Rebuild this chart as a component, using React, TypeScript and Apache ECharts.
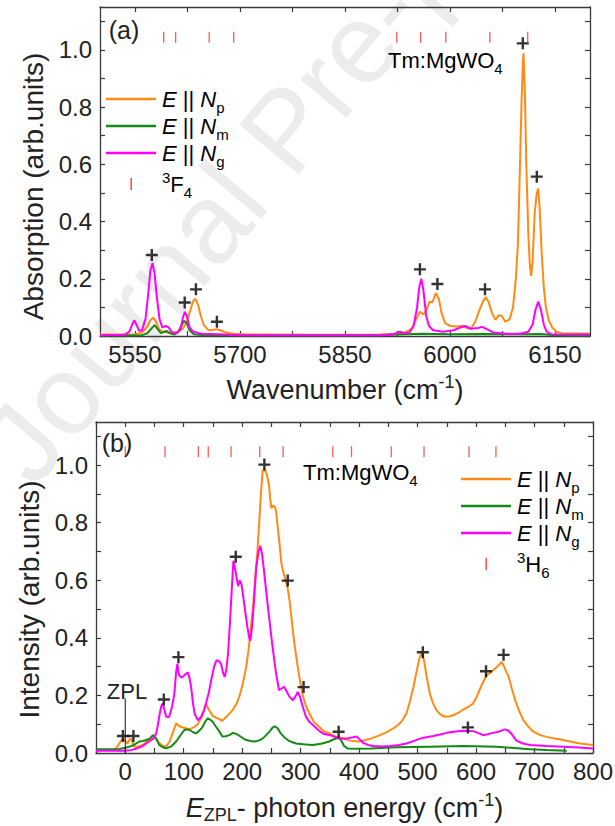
import React, { useEffect, useRef } from 'react';
import * as echarts from 'echarts';

// ---------- Panel (a): absorption ----------
const absNp: [number, number][] = [
  [5500, 0.005], [5530, 0.005], [5550, 0.006], [5558, 0.01], [5563, 0.02], [5568, 0.035], [5572, 0.055], [5576, 0.064],
  [5580, 0.05], [5584, 0.025], [5590, 0.015], [5597, 0.012], [5605, 0.012], [5612, 0.015], [5618, 0.025], [5624, 0.05],
  [5629, 0.09], [5633, 0.122], [5636, 0.13], [5640, 0.11], [5644, 0.07], [5648, 0.04], [5654, 0.022], [5660, 0.02],
  [5666, 0.024], [5672, 0.02], [5680, 0.012], [5690, 0.008], [5710, 0.005], [5800, 0.004], [5900, 0.005], [5920, 0.008],
  [5935, 0.012], [5945, 0.025], [5952, 0.06], [5957, 0.085], [5962, 0.075], [5966, 0.09], [5971, 0.12], [5975, 0.118],
  [5980, 0.15], [5984, 0.13], [5988, 0.08], [5993, 0.045], [6000, 0.035], [6010, 0.033], [6018, 0.036], [6025, 0.027],
  [6030, 0.025], [6036, 0.05], [6042, 0.09], [6047, 0.12], [6051, 0.135], [6055, 0.12], [6060, 0.08], [6065, 0.057],
  [6070, 0.073], [6074, 0.07], [6079, 0.05], [6085, 0.058], [6090, 0.1], [6094, 0.2], [6097, 0.32], [6100, 0.6],
  [6102, 0.8], [6104, 0.95], [6105, 0.988], [6107, 0.85], [6109, 0.6], [6112, 0.35], [6114, 0.25], [6116, 0.21],
  [6118, 0.26], [6121, 0.43], [6124, 0.5], [6126, 0.515], [6128, 0.45], [6131, 0.29], [6134, 0.17], [6137, 0.1],
  [6141, 0.055], [6146, 0.03], [6152, 0.015], [6160, 0.01], [6200, 0.008],
];
const absNm: [number, number][] = [
  [5500, 0.002], [5560, 0.003], [5568, 0.01], [5573, 0.025], [5578, 0.038], [5582, 0.025], [5587, 0.01], [5592, 0.015],
  [5595, 0.018], [5599, 0.01], [5606, 0.005], [5612, 0.015], [5616, 0.035], [5620, 0.053], [5624, 0.045], [5628, 0.02],
  [5634, 0.006], [5650, 0.003], [5900, 0.003], [5925, 0.005], [5960, 0.008], [6000, 0.006], [6050, 0.007], [6100, 0.006],
  [6130, 0.007], [6150, 0.003], [6200, 0.002],
];
const absNg: [number, number][] = [
  [5500, 0.003], [5535, 0.004], [5542, 0.015], [5546, 0.04], [5549, 0.055], [5552, 0.04], [5556, 0.018], [5560, 0.02],
  [5565, 0.06], [5569, 0.15], [5572, 0.23], [5575, 0.255], [5578, 0.22], [5581, 0.14], [5585, 0.06], [5589, 0.03],
  [5594, 0.035], [5598, 0.03], [5603, 0.012], [5610, 0.01], [5615, 0.025], [5618, 0.06], [5621, 0.085], [5624, 0.07],
  [5628, 0.03], [5633, 0.015], [5645, 0.008], [5680, 0.005], [5700, 0.003], [5900, 0.003], [5920, 0.006], [5928, 0.015],
  [5935, 0.01], [5942, 0.012], [5948, 0.035], [5953, 0.1], [5956, 0.17], [5959, 0.2], [5962, 0.16], [5966, 0.07],
  [5970, 0.035], [5976, 0.02], [5990, 0.015], [6005, 0.02], [6015, 0.03], [6022, 0.035], [6030, 0.025], [6040, 0.028],
  [6046, 0.032], [6052, 0.025], [6062, 0.012], [6080, 0.008], [6100, 0.008], [6112, 0.015], [6118, 0.04], [6122, 0.09],
  [6126, 0.12], [6130, 0.09], [6134, 0.04], [6138, 0.015], [6145, 0.006], [6200, 0.005],
];
const absPeaks: [number, number][] = [
  [5574, 0.283], [5621, 0.117], [5637, 0.163], [5667, 0.05], [5957, 0.233], [5982, 0.182], [6050, 0.163],
  [6104, 1.023], [6124, 0.557],
];
const levels3F4: number[] = [5591, 5608, 5656, 5691, 5924, 5958, 5994, 6057, 6111];

// ---------- Panel (b): luminescence ----------
const lumNp: [number, number][] = [
  [-50, 0.01], [-20, 0.01], [-14, 0.02], [-8, 0.04], [-4, 0.05], [0, 0.042], [4, 0.033], [7, 0.045], [10, 0.05],
  [13, 0.035], [16, 0.022], [22, 0.022], [30, 0.028], [40, 0.045], [47, 0.062], [52, 0.05], [58, 0.035], [64, 0.025],
  [70, 0.022], [76, 0.04], [81, 0.068], [87, 0.103], [93, 0.092], [100, 0.088], [110, 0.083], [118, 0.09], [124, 0.1],
  [132, 0.13], [138, 0.172], [143, 0.15], [150, 0.128], [158, 0.12], [166, 0.112], [175, 0.13], [184, 0.15], [190, 0.17],
  [195, 0.195], [201, 0.24], [207, 0.3], [211, 0.36], [215, 0.437], [219, 0.52], [222, 0.6], [226, 0.7], [229, 0.795],
  [232, 0.9], [235, 0.98], [238, 0.985], [241, 0.975], [244, 0.95], [246, 0.93], [248, 0.88], [250, 0.85], [253, 0.86],
  [256, 0.855], [258, 0.84], [261, 0.78], [264, 0.725], [267, 0.66], [270, 0.63], [274, 0.605], [278, 0.57], [281, 0.53],
  [286, 0.437], [290, 0.37], [295, 0.3], [299, 0.25], [303, 0.206], [308, 0.17], [315, 0.137], [322, 0.11], [332, 0.09],
  [340, 0.075], [350, 0.068], [358, 0.058], [367, 0.054], [384, 0.043], [400, 0.04], [420, 0.05], [436, 0.062],
  [450, 0.075], [464, 0.093], [473, 0.11], [481, 0.137], [487, 0.18], [493, 0.23], [498, 0.28], [501, 0.31], [504, 0.335],
  [507, 0.345], [510, 0.33], [512, 0.31], [516, 0.26], [521, 0.206], [526, 0.175], [532, 0.149], [540, 0.132],
  [547, 0.126], [555, 0.128], [561, 0.131], [570, 0.14], [578, 0.151], [588, 0.162], [595, 0.172], [601, 0.195],
  [607, 0.224], [613, 0.25], [618, 0.27], [624, 0.278], [629, 0.287], [636, 0.3], [641, 0.31], [644, 0.316], [648, 0.3],
  [652, 0.28], [655, 0.27], [661, 0.225], [667, 0.183], [674, 0.145], [681, 0.114], [690, 0.09], [698, 0.074],
  [710, 0.062], [721, 0.056], [735, 0.05], [749, 0.045], [765, 0.038], [778, 0.033], [800, 0.028],
];
const lumNm: [number, number][] = [
  [-50, 0.013], [-10, 0.014], [0, 0.018], [7, 0.022], [15, 0.028], [24, 0.04], [30, 0.042], [36, 0.045], [42, 0.05],
  [48, 0.062], [53, 0.05], [58, 0.028], [64, 0.02], [70, 0.016], [78, 0.022], [87, 0.04], [94, 0.06], [101, 0.08],
  [106, 0.082], [110, 0.08], [116, 0.072], [121, 0.068], [127, 0.078], [132, 0.09], [137, 0.11], [141, 0.12],
  [146, 0.115], [150, 0.107], [155, 0.092], [160, 0.078], [166, 0.057], [172, 0.058], [178, 0.062], [184, 0.07],
  [190, 0.066], [195, 0.06], [201, 0.052], [207, 0.045], [214, 0.042], [221, 0.04], [228, 0.043], [235, 0.05],
  [241, 0.062], [247, 0.075], [252, 0.088], [256, 0.093], [261, 0.085], [266, 0.068], [272, 0.055], [278, 0.045],
  [285, 0.038], [292, 0.033], [305, 0.03], [320, 0.028], [335, 0.032], [349, 0.04], [357, 0.048], [364, 0.052],
  [369, 0.045], [374, 0.025], [380, 0.016], [395, 0.015], [420, 0.016], [464, 0.02], [521, 0.022], [578, 0.024],
  [635, 0.022], [692, 0.013], [720, 0.01], [755, 0.008],
];
const lumNg: [number, number][] = [
  [-50, 0.008], [0, 0.008], [10, 0.01], [18, 0.015], [28, 0.022], [36, 0.033], [44, 0.045], [48, 0.05], [53, 0.068],
  [56, 0.1], [59, 0.137], [62, 0.165], [64, 0.172], [67, 0.15], [70, 0.126], [75, 0.125], [80, 0.16], [84, 0.206],
  [87, 0.28], [89, 0.31], [92, 0.27], [96, 0.262], [100, 0.268], [104, 0.275], [107, 0.28], [110, 0.26], [113, 0.225],
  [116, 0.17], [119, 0.135], [124, 0.114], [130, 0.126], [135, 0.15], [138, 0.172], [143, 0.21], [147, 0.253],
  [152, 0.3], [156, 0.322], [160, 0.32], [164, 0.31], [167, 0.28], [170, 0.264], [173, 0.29], [176, 0.35], [179, 0.45],
  [182, 0.56], [185, 0.668], [187, 0.65], [190, 0.615], [193, 0.58], [196, 0.6], [199, 0.585], [202, 0.54], [206, 0.48],
  [209, 0.437], [212, 0.4], [214, 0.39], [217, 0.44], [220, 0.52], [224, 0.645], [228, 0.7], [231, 0.72], [234, 0.69],
  [237, 0.64], [241, 0.564], [246, 0.472], [252, 0.368], [258, 0.276], [263, 0.218], [268, 0.225], [272, 0.23],
  [277, 0.21], [281, 0.195], [287, 0.183], [292, 0.2], [295, 0.212], [299, 0.195], [303, 0.165], [309, 0.126],
  [315, 0.108], [321, 0.097], [330, 0.08], [338, 0.068], [350, 0.062], [360, 0.055], [367, 0.05], [378, 0.05],
  [390, 0.055], [396, 0.057], [402, 0.045], [407, 0.035], [415, 0.028], [424, 0.024], [440, 0.023], [453, 0.024],
  [468, 0.028], [481, 0.033], [494, 0.042], [504, 0.05], [515, 0.055], [527, 0.059], [540, 0.065], [550, 0.07],
  [565, 0.075], [578, 0.077], [595, 0.076], [605, 0.068], [612, 0.062], [620, 0.065], [629, 0.07], [640, 0.075],
  [649, 0.082], [655, 0.078], [660, 0.068], [669, 0.043], [680, 0.033], [692, 0.028], [721, 0.024], [749, 0.022],
  [775, 0.019], [800, 0.016],
];
const lumPeaks: [number, number][] = [
  [-4, 0.059], [14, 0.059], [66, 0.186], [91, 0.333], [189, 0.682], [238, 1.002], [278, 0.599], [305, 0.229],
  [365, 0.074], [509, 0.35], [586, 0.089], [617, 0.284], [647, 0.341],
];
const levels3H6: number[] = [0, 68, 125, 142, 181, 230, 270, 355, 387, 455, 511, 588, 634];
const zplLine: [number, number][] = [[0, 0], [0, 0.19]];

// ---------- Axis ticks / labels ----------
const absTicks: number[] = [5550, 5625, 5700, 5775, 5850, 5925, 6000, 6075, 6150];
const absLabels: number[] = [5550, 5700, 5850, 6000, 6150];
const lumTicks: number[] = [-50, 0, 50, 100, 150, 200, 250, 300, 350, 400, 450, 500, 550, 600, 650, 700, 750, 800];
const lumLabels: number[] = [0, 100, 200, 300, 400, 500, 600, 700, 800];
const yTicks: number[] = [0, 0.1, 0.2, 0.3, 0.4, 0.5, 0.6, 0.7, 0.8, 0.9, 1.0, 1.1];
const yLabels: number[] = [0, 0.2, 0.4, 0.6, 0.8, 1.0];

const ORANGE = '#ff8a14';
const GREEN = '#138a13';
const MAGENTA = '#ff00ff';
const RED = '#ff3030';
const AXIS = '#3a3a3a';
const FONT = '"Liberation Sans", Arial, sans-serif';

const PLUS = 'path://M4,0H6V4H10V6H6V10H4V6H0V4H4Z';

const rich = (fs: number, subPad = 0.75, supPad = 0.6) => ({
  n: { fontSize: fs, fontFamily: FONT, color: '#222', verticalAlign: 'middle' as const },
  it: { fontSize: fs, fontFamily: FONT, fontStyle: 'italic' as const, color: '#222', verticalAlign: 'middle' as const },
  sub: { fontSize: Math.round(fs * 0.68), fontFamily: FONT, color: '#222', padding: [Math.round(fs * subPad), 0, 0, 0], verticalAlign: 'middle' as const },
  sup: { fontSize: Math.round(fs * 0.68), fontFamily: FONT, color: '#222', padding: [0, 0, Math.round(fs * supPad), 0], verticalAlign: 'middle' as const },
});

function xAxisPair(grid: number, min: number, max: number, ticks: number[], labels: number[], name: string, nameGap: number) {
  const common = {
    gridIndex: grid,
    type: 'value' as const,
    min,
    max,
    splitLine: { show: false },
    axisLine: { show: true, onZero: false, lineStyle: { color: AXIS, width: 1.3 } },
  };
  return [
    {
      ...common,
      position: 'bottom' as const,
      axisTick: { show: true, inside: true, length: 5, customValues: ticks, lineStyle: { color: AXIS, width: 1.2 } },
      axisLabel: {
        show: true, customValues: labels, fontSize: 24, fontFamily: FONT, color: '#222', margin: 6,
        formatter: (v: number) => String(Math.round(v)),
      },
      name,
      nameLocation: 'middle' as const,
      nameGap,
      nameTextStyle: { rich: rich(27, 0.5, 0.6) },
    },
    {
      ...common,
      position: 'top' as const,
      axisTick: { show: true, inside: true, length: 5, customValues: ticks, lineStyle: { color: AXIS, width: 1.2 } },
      axisLabel: { show: false },
    },
  ];
}

function yAxisPair(grid: number, name: string, nameGap: number, shiftDown: number) {
  const common = {
    gridIndex: grid,
    type: 'value' as const,
    min: 0,
    max: 1.15,
    splitLine: { show: false },
    axisLine: { show: true, onZero: false, lineStyle: { color: AXIS, width: 1.3 } },
    axisTick: { show: true, inside: true, length: 5, customValues: yTicks, lineStyle: { color: AXIS, width: 1.2 } },
  };
  return [
    {
      ...common,
      position: 'left' as const,
      axisLabel: {
        show: true, customValues: yLabels, fontSize: 24, fontFamily: FONT, color: '#222', margin: 8,
        formatter: (v: number) => v.toFixed(1),
      },
      name,
      nameLocation: 'middle' as const,
      nameGap,
      nameTextStyle: { rich: rich(28), padding: [0, shiftDown * 2, 0, 0] },
    },
    { ...common, position: 'right' as const, axisLabel: { show: false } },
  ];
}

function line(data: [number, number][], color: string, xi: number, yi: number, z: number) {
  return {
    type: 'line' as const, data, xAxisIndex: xi, yAxisIndex: yi, showSymbol: false, symbol: 'none',
    lineStyle: { color, width: 2 }, itemStyle: { color }, z, silent: true,
  };
}

function plus(data: [number, number][], xi: number, yi: number) {
  return {
    type: 'scatter' as const, data, xAxisIndex: xi, yAxisIndex: yi, symbol: PLUS, symbolSize: 12,
    itemStyle: { color: '#000' }, z: 6, silent: true,
  };
}

function levels(vals: number[], y: number, xi: number, yi: number) {
  return {
    type: 'scatter' as const, data: vals.map((v) => [v, y]), xAxisIndex: xi, yAxisIndex: yi,
    symbol: 'rect', symbolSize: [1.3, 11], itemStyle: { color: RED }, z: 6, silent: true,
  };
}

function legendBlock(x: number, y0: number, gap: number, level: string) {
  const fs = 22;
  const r = rich(fs);
  const items: any[] = [];
  const entries: [string, string][] = [[ORANGE, 'p'], [GREEN, 'm'], [MAGENTA, 'g']];
  entries.forEach(([c, s], i) => {
    const y = y0 + i * gap;
    items.push({ type: 'line', shape: { x1: x, y1: y, x2: x + 50, y2: y }, style: { stroke: c, lineWidth: 2.5 }, z: 10 });
    items.push({
      type: 'text', x: x + 56, y, z: 10,
      style: { text: `{it|E}{n| || }{it|N}{sub|${s}}`, rich: r, verticalAlign: 'middle', align: 'left' },
    });
  });
  const yl = y0 + 3 * gap + 4;
  items.push({ type: 'rect', shape: { x: x + 24.5, y: yl - 6, width: 1.3, height: 12 }, style: { fill: RED }, z: 10 });
  items.push({
    type: 'text', x: x + 56, y: yl, z: 10,
    style: { text: `{sup|3}{n|${level}}{sub|${level === 'F' ? '4' : '6'}}`, rich: r, verticalAlign: 'middle', align: 'left' },
  });
  return items;
}

export default function App() {
  const ref = useRef<HTMLDivElement>(null);
  useEffect(() => {
    if (!ref.current) return;
    const chart = echarts.init(ref.current, undefined, { renderer: 'svg' });
    const [xa0, xa1] = xAxisPair(0, 5500, 6200, absTicks, absLabels, '{n|Wavenumber (cm}{sup|-1}{n|)}', 37);
    const [xb0, xb1] = xAxisPair(1, -50, 800, lumTicks, lumLabels, '{it|E}{sub|ZPL}{n|- photon energy (cm}{sup|-1}{n|)}', 38);
    const [ya0, ya1] = yAxisPair(0, '{n|Absorption (arb.units)}', 42, 15);
    const [yb0, yb1] = yAxisPair(1, '{n|Intensity (arb.units)}', 51, 12);

    const option: any = {
      animation: false,
      backgroundColor: '#ffffff',
      grid: [
        { left: 100, top: 7, width: 490, height: 329, containLabel: false, outerBoundsMode: 'none' },
        { left: 96, top: 422, width: 497, height: 331, containLabel: false, outerBoundsMode: 'none' },
      ],
      xAxis: [xa0, xa1, xb0, xb1],
      yAxis: [ya0, ya1, yb0, yb1],
      series: [
        line(absNp, ORANGE, 0, 0, 2),
        line(absNm, GREEN, 0, 0, 3),
        line(absNg, MAGENTA, 0, 0, 4),
        plus(absPeaks, 0, 0),
        levels(levels3F4, 1.044, 0, 0),
        line(lumNp, ORANGE, 2, 2, 2),
        line(lumNm, GREEN, 2, 2, 3),
        line(lumNg, MAGENTA, 2, 2, 4),
        plus(lumPeaks, 2, 2),
        levels(levels3H6, 1.047, 2, 2),
        { ...line(zplLine, '#111', 2, 2, 5), lineStyle: { color: '#111', width: 1 } },
      ],
      graphic: [
        {
          type: 'text', x: 285, y: 130, rotation: 0.873, z: -5, silent: true,
          style: { text: 'Journal Pre-proof', fontSize: 113, fontFamily: FONT, fill: '#ececec', align: 'center', verticalAlign: 'middle' },
        },
        { type: 'text', x: 124, y: 30, z: 10, style: { text: '(a)', fontSize: 25, fontFamily: FONT, fill: '#222', align: 'center', verticalAlign: 'middle' } },
        { type: 'text', x: 117, y: 443, z: 10, style: { text: '(b)', fontSize: 25, fontFamily: FONT, fill: '#222', align: 'center', verticalAlign: 'middle' } },
        { type: 'text', x: 388, y: 60, z: 10, style: { text: '{n|Tm:MgWO}{sub|4}', rich: rich(22), align: 'left', verticalAlign: 'middle' } },
        { type: 'text', x: 303, y: 472, z: 10, style: { text: '{n|Tm:MgWO}{sub|4}', rich: rich(22), align: 'left', verticalAlign: 'middle' } },
        { type: 'text', x: 127, y: 691, z: 10, style: { text: 'ZPL', fontSize: 22, fontFamily: FONT, fill: '#222', align: 'center', verticalAlign: 'middle' } },
        ...legendBlock(106, 99, 27, 'F'),
        ...legendBlock(461, 479, 27, 'H'),
      ],
    };
    chart.setOption(option);
    return () => chart.dispose();
  }, []);
  return <div ref={ref} style={{ position: 'absolute', left: 0, top: 0, width: 615, height: 826 }} />;
}
